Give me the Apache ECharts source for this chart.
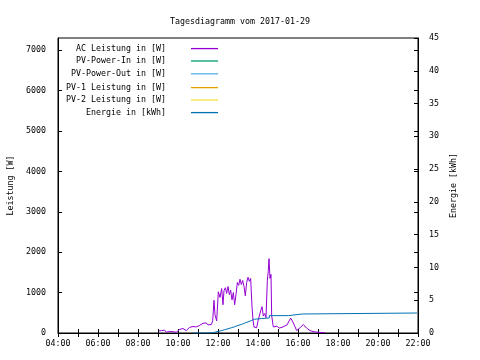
<!DOCTYPE html>
<html><head><meta charset="utf-8">
<script src="https://cdn.jsdelivr.net/npm/echarts@6/dist/echarts.min.js"></script>
<style>html,body{margin:0;padding:0;background:#fff}#c{width:480px;height:360px}</style>
</head><body><div id="c"></div>
<script>
const titleText = 'Tagesdiagramm vom 2017-01-29';
const seriesNames = ['AC Leistung in [W]','PV-Power-In in [W]','PV-Power-Out in [W]','PV-1 Leistung in [W]','PV-2 Leistung in [W]','Energie in [kWh]'];
const seriesColors = ['#9400d3','#009e73','#56b4e9','#e69f00','#f0e442','#0072b2'];
const leftAxisName = 'Leistung [W]';
const rightAxisName = 'Energie [kWh]';

const acTimes = ['09:03','09:05','09:10','09:15','09:20','09:25','09:30','09:35','09:40','09:45','09:50','09:55','10:00','10:05','10:10','10:15','10:20','10:25','10:30','10:35','10:40','10:45','10:50','10:55','11:00','11:05','11:10','11:15','11:20','11:25','11:30','11:35','11:40','11:44','11:48','11:51','11:56','12:01','12:06','12:11','12:15','12:18','12:22','12:26','12:30','12:34','12:38','12:42','12:46','12:50','12:54','12:58','13:02','13:06','13:10','13:14','13:18','13:22','13:26','13:30','13:34','13:38','13:42','13:45','13:48','13:52','13:56','14:00','14:04','14:08','14:12','14:16','14:20','14:24','14:28','14:31','14:33','14:36','14:39','14:41','14:46','14:51','14:57','15:03','15:09','15:15','15:21','15:27','15:33','15:38','15:42','15:46','15:51','15:56','16:01','16:06','16:11','16:16','16:21','16:26','16:31','16:36','16:42','16:48','16:54','17:00','17:06','17:12','17:21'];
const acValues = [50,40,60,30,70,20,60,40,80,30,50,20,60,90,50,110,80,60,90,140,110,160,130,150,120,190,210,240,220,250,200,240,210,300,810,450,300,1020,880,1100,700,1050,1120,980,1150,950,1060,820,1000,700,950,1250,1180,1330,1200,1300,1150,920,1250,1380,1280,1350,650,320,150,110,130,300,420,550,650,420,480,380,1300,1550,1840,1350,1450,430,150,120,170,120,90,150,110,200,180,370,330,250,220,60,90,130,110,210,180,120,90,60,50,30,40,20,15,10,10];

const energyTimes = ['10:46','11:41','11:50','12:00','12:10','12:20','12:30','12:40','12:50','13:00','13:10','13:20','13:30','13:40','13:50','14:10','14:34','15:31','16:13','21:57'];
const energyValues = [0,0.1,0.25,0.35,0.5,0.65,0.8,0.95,1.15,1.3,1.5,1.7,1.9,2.1,2.2,2.3,2.65,2.9,3.05,3.05];

const pvInValues = [], pvOutValues = [], pv1Values = [], pv2Values = [];

const xTickLabels = ['04:00','06:00','08:00','10:00','12:00','14:00','16:00','18:00','20:00','22:00'];

function toHours(s){const p=s.split(':');return +p[0]+(+p[1])/60;}
function pairs(ts,vs){return ts.map((t,i)=>[toHours(t),vs[i]]);}
function fmtHour(v){const h=Math.round(v);return (h<10?'0':'')+h+':00';}

const FONT = 'DejaVu Sans Mono';
const FS = 8.3;
const chart = echarts.init(document.getElementById('c'), null, {renderer:'canvas'});

const legendTops = [44.6, 57, 69.8, 83.6, 96, 108.6];
const legends = seriesNames.map((n,i)=>({
  data:[{name:n,itemStyle:{color:seriesColors[i]}}], right:262, top:legendTops[i], orient:'vertical', align:'right',
  icon:'rect', itemWidth:27, itemHeight:1.3, selectedMode:false, padding:0,
  itemStyle:{color:seriesColors[i]},
  textStyle:{fontFamily:FONT,fontSize:FS,color:'#000',padding:[0,20,0,0]}
}));

const lineSeries = (name,data,idx,yIdx,extra)=>Object.assign({
  name, type:'line', data, yAxisIndex:yIdx, symbol:'none', animation:false,
  lineStyle:{color:seriesColors[idx],width:1}, itemStyle:{color:seriesColors[idx]}
}, extra||{});

chart.setOption({
  animation:false,
  backgroundColor:'#fff',
  textStyle:{fontFamily:FONT,fontSize:FS,color:'#000'},
  title:{text:titleText,left:'center',top:13,textStyle:{fontFamily:FONT,fontSize:FS,fontWeight:'normal',color:'#000'}},
  legend:legends,
  grid:{left:58,right:62,top:38,bottom:27,containLabel:false,outerBoundsMode:'none',show:true,borderColor:'#000',borderWidth:1,backgroundColor:'transparent'},
  xAxis:[{
    type:'value',min:4,max:22,interval:2,
    axisLine:{show:true,lineStyle:{color:'#000',width:1}},
    axisTick:{show:true,inside:true,length:4,lineStyle:{color:'#000'}},
    minorTick:{show:true,splitNumber:2,length:4,lineStyle:{color:'#000'}},
    splitLine:{show:false},
    axisLabel:{formatter:(v)=>xTickLabels[(v-4)/2]||fmtHour(v),fontFamily:FONT,fontSize:FS,color:'#000',margin:7}
  },{
    type:'value',min:4,max:22,interval:2,position:'top',
    axisLine:{show:false},
    axisTick:{show:true,inside:true,length:4,lineStyle:{color:'#000'}},
    minorTick:{show:true,splitNumber:2,length:4,lineStyle:{color:'#000'}},
    splitLine:{show:false},axisLabel:{show:false}
  }],
  yAxis:[{
    type:'value',min:0,max:7300,interval:1000,position:'left',
    name:leftAxisName,nameLocation:'middle',nameGap:42,nameRotate:90,
    nameTextStyle:{fontFamily:FONT,fontSize:FS,color:'#000'},
    axisLine:{show:true,lineStyle:{color:'#000'}},
    axisTick:{show:true,inside:true,length:4,lineStyle:{color:'#000'}},
    splitLine:{show:false},
    axisLabel:{showMaxLabel:false,formatter:(v)=>String(v),fontFamily:FONT,fontSize:FS,color:'#000',margin:12}
  },{
    type:'value',min:0,max:45,interval:5,position:'right',
    name:rightAxisName,nameLocation:'middle',nameGap:32,nameRotate:90,
    nameTextStyle:{fontFamily:FONT,fontSize:FS,color:'#000'},
    axisLine:{show:true,lineStyle:{color:'#000'}},
    axisTick:{show:true,inside:true,length:4,lineStyle:{color:'#000'}},
    splitLine:{show:false},
    axisLabel:{formatter:(v)=>String(v),fontFamily:FONT,fontSize:FS,color:'#000',margin:11}
  },{
    type:'value',min:0,max:7300,interval:1000,position:'right',
    axisLine:{show:false},
    axisTick:{show:true,inside:true,length:4,lineStyle:{color:'#000'}},
    splitLine:{show:false},axisLabel:{show:false}
  }],
  series:[
    lineSeries(seriesNames[0],pairs(acTimes,acValues),0,0),
    lineSeries(seriesNames[1],pvInValues,1,0),
    lineSeries(seriesNames[2],pvOutValues,2,0),
    lineSeries(seriesNames[3],pv1Values,3,0),
    lineSeries(seriesNames[4],pv2Values,4,0),
    lineSeries(seriesNames[5],pairs(energyTimes,energyValues),5,1,{step:'end'})
  ]
});
</script></body></html>
